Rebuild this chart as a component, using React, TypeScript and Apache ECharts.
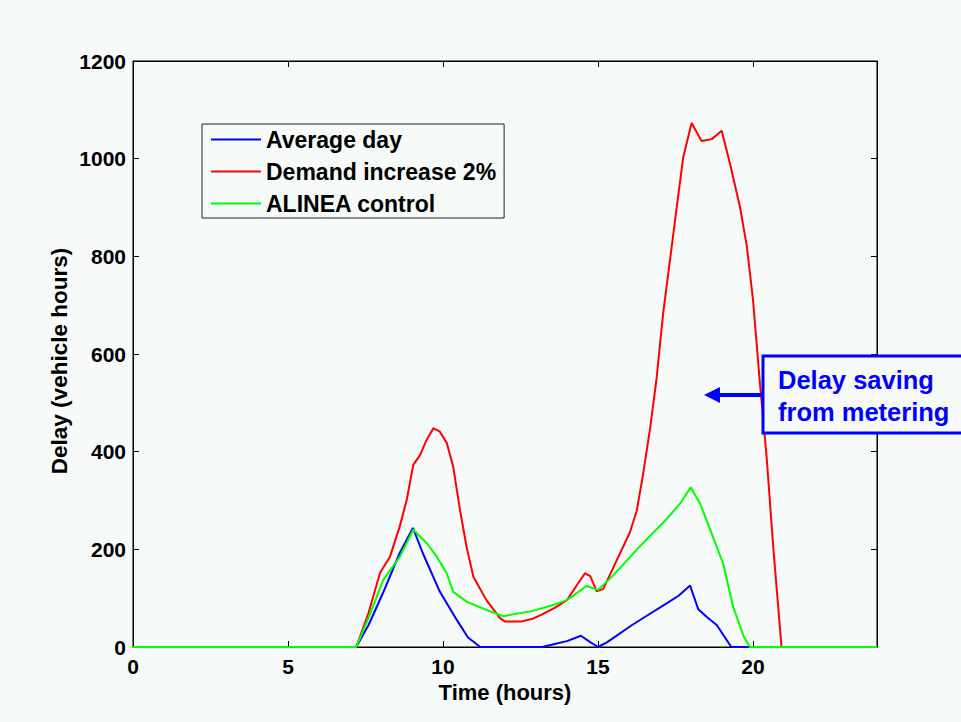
import React, { useEffect, useRef } from "react";
import * as echarts from "echarts";

// Average day
const avgHours = [0, 7.2, 7.6, 8.06, 8.6, 9.03, 9.35, 9.9, 10.45, 10.8, 11.2, 13.2, 13.6, 14.0, 14.45, 14.7, 15.0, 15.3, 16.1, 16.6, 17.2, 17.6, 17.97, 18.23, 18.5, 18.83, 19.3, 24];
const avgDelay = [0, 0, 45, 110, 192, 244, 192, 113, 55, 20, 0, 0, 6, 12, 23, 12, 0, 10, 45, 65, 89, 105, 126, 78, 62, 45, 0, 0];

// Demand increase 2%
const demHours = [0, 7.2, 7.6, 7.97, 8.29, 8.6, 8.83, 9.04, 9.26, 9.47, 9.69, 9.9, 10.12, 10.33, 10.55, 10.76, 10.98, 11.4, 11.84, 12.0, 12.5, 12.9, 13.2, 13.6, 14.0, 14.3, 14.58, 14.75, 14.96, 15.17, 15.6, 16.03, 16.25, 16.45, 16.68, 16.89, 17.1, 17.32, 17.54, 17.75, 18.02, 18.34, 18.67, 18.99, 19.26, 19.58, 19.8, 20.0, 20.23, 20.44, 20.65, 20.92, 24];
const demDelay = [0, 0, 70, 152, 185, 246, 301, 373, 393, 424, 448, 441, 418, 369, 280, 205, 144, 96, 59, 52, 52, 58, 67, 80, 96, 125, 151, 145, 114, 119, 177, 235, 279, 352, 447, 550, 682, 791, 901, 1003, 1073, 1036, 1040, 1057, 989, 901, 821, 711, 535, 389, 207, 0, 0];

// ALINEA control
const alnHours = [0, 7.2, 7.6, 8.07, 8.61, 9.04, 9.47, 9.8, 10.12, 10.33, 10.76, 11.4, 11.94, 12.9, 13.5, 14.0, 14.63, 15.0, 15.39, 16.35, 17.2, 17.65, 17.99, 18.29, 18.61, 19.04, 19.36, 19.69, 19.9, 24];
const alnDelay = [0, 0, 60, 137, 185, 240, 213, 185, 151, 113, 93, 76, 63, 74, 85, 96, 125, 117, 140, 206, 261, 294, 327, 294, 242, 170, 82, 23, 0, 0];

const seriesNames = ["Average day", "Demand increase 2%", "ALINEA control"];
const seriesColors = ["#0000ff", "#ff0000", "#00ff00"];
const annotationLines = ["Delay saving", "from metering"];
const xAxisTitle = "Time (hours)";
const yAxisTitle = "Delay (vehicle hours)";

const BG = "#f6faf8";
const FONT = '"Liberation Sans", Arial, Helvetica, sans-serif';

const zip = (xs: number[], ys: number[]) => xs.map((x, i) => [x, ys[i]]);

export default function App() {
  const ref = useRef<HTMLDivElement>(null);
  useEffect(() => {
    if (!ref.current) return;
    const chart = echarts.init(ref.current, undefined, { renderer: "svg" });
    const axisCommon = {
      type: "value" as const,
      axisLine: { show: true, onZero: false, lineStyle: { color: "#000", width: 1 } },
      axisTick: { show: true, inside: true, length: 6, lineStyle: { color: "#000" } },
      splitLine: { show: false },
    };
    const labelStyle = { fontSize: 21, fontWeight: "bold", color: "#000", fontFamily: FONT };
    const nameStyle = { fontSize: 22, fontWeight: "bold", color: "#000", fontFamily: FONT };
    const datasets = [zip(avgHours, avgDelay), zip(demHours, demDelay), zip(alnHours, alnDelay)];
    chart.setOption({
      animation: false,
      backgroundColor: BG,
      textStyle: { fontFamily: FONT },
      grid: { left: 133, right: 84, top: 61, bottom: 75, show: true, borderColor: "#000", borderWidth: 1, backgroundColor: BG },
      xAxis: [
        {
          ...axisCommon,
          min: 0, max: 24, interval: 5,
          position: "bottom",
          name: xAxisTitle, nameLocation: "middle", nameGap: 33, nameTextStyle: nameStyle,
          axisLabel: { ...labelStyle, margin: 9, showMaxLabel: false },
        },
        {
          ...axisCommon,
          min: 0, max: 24, interval: 5,
          position: "top",
          axisLabel: { show: false },
        },
      ],
      yAxis: [
        {
          ...axisCommon,
          min: 0, max: 1200, interval: 200,
          position: "left",
          axisLabel: { ...labelStyle, margin: 7, formatter: (v: number) => String(v) },
        },
        {
          ...axisCommon,
          min: 0, max: 1200, interval: 200,
          position: "right",
          axisLabel: { show: false },
        },
      ],
      legend: {
        orient: "vertical",
        left: 202, top: 124,
        backgroundColor: BG,
        borderColor: "#222", borderWidth: 1,
        padding: [4, 8, 3, 9],
        itemGap: 9, itemWidth: 50, itemHeight: 2,
        icon: "rect",
        data: seriesNames,
        textStyle: { fontSize: 23, fontWeight: "bold", color: "#000", lineHeight: 22, fontFamily: FONT },
      },
      series: seriesNames.map((name, i) => ({
        name,
        type: "line",
        data: datasets[i],
        xAxisIndex: 0,
        yAxisIndex: 0,
        showSymbol: false,
        symbol: "none",
        lineStyle: { color: seriesColors[i], width: 2 },
        itemStyle: { color: seriesColors[i] },
        z: 2 + i,
      })),
      graphic: [
        { type: "text", x: 59, y: 361, rotation: Math.PI / 2, style: { text: yAxisTitle, fill: "#000", font: `bold 22.5px ${FONT}`, align: "center", verticalAlign: "middle" }, z: 50 },
        { type: "rect", shape: { x: 763, y: 356, width: 230, height: 77 }, style: { fill: BG, stroke: "#0000ff", lineWidth: 3 }, z: 100 },
        { type: "line", shape: { x1: 763, y1: 395, x2: 716, y2: 395 }, style: { stroke: "#0000ff", lineWidth: 4 }, z: 100 },
        { type: "polygon", shape: { points: [[704, 395], [720, 387], [720, 403]] }, style: { fill: "#0000ff" }, z: 100 },
        { type: "text", x: 778, y: 380, style: { text: annotationLines[0], fill: "#0000ff", font: `bold 25.5px ${FONT}`, verticalAlign: "middle", align: "left" }, z: 101 },
        { type: "text", x: 778, y: 412, style: { text: annotationLines[1], fill: "#0000ff", font: `bold 25.5px ${FONT}`, verticalAlign: "middle", align: "left" }, z: 101 },
      ],
    });
    return () => chart.dispose();
  }, []);
  return <div ref={ref} style={{ position: "absolute", left: 0, top: 0, width: 961, height: 722 }} />;
}
